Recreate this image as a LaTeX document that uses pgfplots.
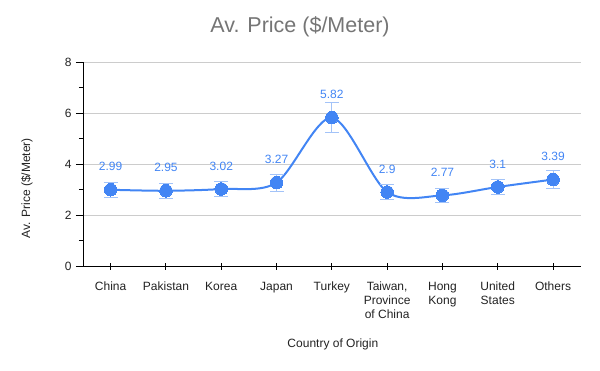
\documentclass[border=0pt]{standalone}
\usepackage{pgfplots}
\pgfplotsset{compat=1.18}
\usepackage{fontspec}
\setmainfont{Liberation Sans}
\definecolor{gblue}{HTML}{4285F4}
\definecolor{errblue}{HTML}{A3C3F8}
\definecolor{ticktext}{HTML}{222222}
\definecolor{titlegray}{HTML}{757575}
\definecolor{gridgray}{HTML}{CCCCCC}
\begin{document}
\begin{tikzpicture}
\useasboundingbox (-83bp,-105bp) rectangle (517bp,266bp);
\begin{axis}[
  scale only axis, width=497.7bp, height=204bp,
  at={(0,0)}, anchor=south west,
  xmin=-0.5, xmax=8.5, ymin=0, ymax=8,
  axis x line*=bottom, axis y line*=left,
  axis line style={black, line width=0.9bp},
  /pgf/number format/assume math mode=true,
  xtick={0,...,8},
  xticklabels={China,Pakistan,Korea,Japan,Turkey,{Taiwan,\\Province\\of China},{Hong\\Kong},{United\\States},Others},
  ytick={0,2,4,6,8},
  minor ytick={1,3,5,7},
  ymajorgrids, major grid style={gridgray, line width=0.9bp},
  x tick style={black, line width=0.9bp},
  xtick align=center,
  y tick style={black, line width=0.9bp},
  ytick align=outside,
  major tick length=7bp, minor tick length=4bp,
  tick label style={font=\fontsize{12bp}{14bp}\selectfont, text=ticktext},
  xticklabel style={align=center, anchor=north, yshift=-9bp},
  yticklabel style={anchor=east, xshift=-1bp},
  title={Av. Price (\$/Meter)},
  title style={font=\fontsize{21.5bp}{24bp}\selectfont, text=titlegray, at={(axis description cs:0.436,1.142)}, anchor=center},
  xlabel={Country of Origin},
  xlabel style={font=\fontsize{12bp}{14bp}\selectfont, text=ticktext, at={(axis description cs:0.502,-0.382)}, anchor=center},
  ylabel={Av. Price (\$/Meter)},
  ylabel style={font=\fontsize{12bp}{14bp}\selectfont, text=ticktext, at={(axis description cs:-0.1125,0.382)}, anchor=center},
  clip=false,
]
\addplot+[
  smooth, color=gblue, line width=2bp,
  mark=*, mark size=6.3bp, mark options={fill=gblue, draw=gblue, line width=0bp},
  error bars/.cd, y dir=both, y explicit,
  error bar style={errblue, line width=1bp},
  error mark options={errblue, rotate=90, mark size=7bp, line width=1bp},
] table[x=x, y=y, y error=e] {
x y e
0 2.99 0.30
1 2.95 0.30
2 3.02 0.30
3 3.27 0.33
4 5.82 0.58
5 2.90 0.29
6 2.77 0.28
7 3.10 0.31
8 3.39 0.34
};
\addplot[
  only marks, mark=none,
  nodes near coords, point meta=y,
  nodes near coords style={font=\fontsize{12bp}{14bp}\selectfont, text=gblue, anchor=center, yshift=23bp},
] table[x=x, y=y] {
x y
0 2.99
1 2.95
2 3.02
3 3.27
4 5.82
5 2.90
6 2.77
7 3.10
8 3.39
};
\end{axis}
\end{tikzpicture}
\end{document}
